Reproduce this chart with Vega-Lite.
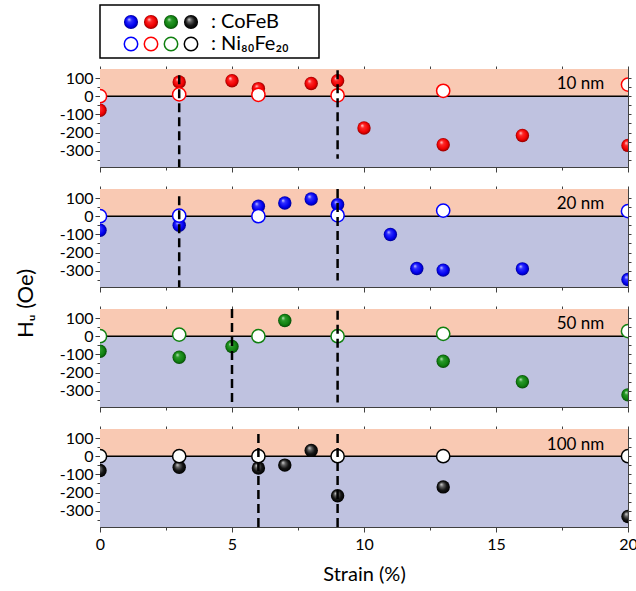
{
  "$schema": "https://vega.github.io/schema/vega-lite/v6.json",
  "padding": {"left": 13, "top": 4, "right": 0, "bottom": 5},
  "config": {
    "font": "Lato",
    "view": {"stroke": "#404040", "strokeWidth": 1},
    "axis": {"grid": false, "domainColor": "#404040", "tickColor": "#404040", "labelColor": "black", "labelFont": "Lato", "labelFontSize": 16, "labelOverlap": false, "labelFlush": false, "labelPadding": 2, "titleFont": "Lato", "titleFontWeight": "normal", "titleColor": "black"}
  },
  "datasets": {
    "cofeb": [
      {"t": "10 nm", "strain": 0, "hu": -77}, {"t": "10 nm", "strain": 3, "hu": 79}, {"t": "10 nm", "strain": 5, "hu": 85}, {"t": "10 nm", "strain": 6, "hu": 42}, {"t": "10 nm", "strain": 8, "hu": 70}, {"t": "10 nm", "strain": 9, "hu": 85}, {"t": "10 nm", "strain": 10, "hu": -175}, {"t": "10 nm", "strain": 13, "hu": -267}, {"t": "10 nm", "strain": 16, "hu": -216}, {"t": "10 nm", "strain": 20, "hu": -271},
      {"t": "20 nm", "strain": 0, "hu": -77}, {"t": "20 nm", "strain": 3, "hu": -50}, {"t": "20 nm", "strain": 6, "hu": 55}, {"t": "20 nm", "strain": 7, "hu": 73}, {"t": "20 nm", "strain": 8, "hu": 95}, {"t": "20 nm", "strain": 9, "hu": 64}, {"t": "20 nm", "strain": 11, "hu": -101}, {"t": "20 nm", "strain": 12, "hu": -288}, {"t": "20 nm", "strain": 13, "hu": -297}, {"t": "20 nm", "strain": 16, "hu": -290}, {"t": "20 nm", "strain": 20, "hu": -349},
      {"t": "50 nm", "strain": 0, "hu": -83}, {"t": "50 nm", "strain": 3, "hu": -116}, {"t": "50 nm", "strain": 5, "hu": -57}, {"t": "50 nm", "strain": 7, "hu": 87}, {"t": "50 nm", "strain": 13, "hu": -138}, {"t": "50 nm", "strain": 16, "hu": -251}, {"t": "50 nm", "strain": 20, "hu": -323},
      {"t": "100 nm", "strain": 0, "hu": -79}, {"t": "100 nm", "strain": 3, "hu": -61}, {"t": "100 nm", "strain": 6, "hu": -65}, {"t": "100 nm", "strain": 7, "hu": -49}, {"t": "100 nm", "strain": 8, "hu": 32}, {"t": "100 nm", "strain": 9, "hu": -218}, {"t": "100 nm", "strain": 13, "hu": -169}, {"t": "100 nm", "strain": 20, "hu": -332}
    ],
    "nife": [
      {"t": "10 nm", "strain": 0, "hu": 0}, {"t": "10 nm", "strain": 3, "hu": 10}, {"t": "10 nm", "strain": 6, "hu": 8}, {"t": "10 nm", "strain": 9, "hu": 5}, {"t": "10 nm", "strain": 13, "hu": 30}, {"t": "10 nm", "strain": 20, "hu": 64},
      {"t": "20 nm", "strain": 0, "hu": 0}, {"t": "20 nm", "strain": 3, "hu": 3}, {"t": "20 nm", "strain": 6, "hu": 0}, {"t": "20 nm", "strain": 9, "hu": 5}, {"t": "20 nm", "strain": 13, "hu": 31}, {"t": "20 nm", "strain": 20, "hu": 28},
      {"t": "50 nm", "strain": 0, "hu": 0}, {"t": "50 nm", "strain": 3, "hu": 9}, {"t": "50 nm", "strain": 6, "hu": 0}, {"t": "50 nm", "strain": 9, "hu": 0}, {"t": "50 nm", "strain": 13, "hu": 13}, {"t": "50 nm", "strain": 20, "hu": 28},
      {"t": "100 nm", "strain": 0, "hu": 0}, {"t": "100 nm", "strain": 3, "hu": 0}, {"t": "100 nm", "strain": 6, "hu": 0}, {"t": "100 nm", "strain": 9, "hu": 0}, {"t": "100 nm", "strain": 13, "hu": 0}, {"t": "100 nm", "strain": 20, "hu": 0}
    ],
    "dashes": [
      {"t": "10 nm", "strain": 3, "top": 116, "bottom": -390}, {"t": "10 nm", "strain": 9, "top": 143, "bottom": -345},
      {"t": "20 nm", "strain": 3, "top": 110, "bottom": -390}, {"t": "20 nm", "strain": 9, "top": 150, "bottom": -354},
      {"t": "50 nm", "strain": 5, "top": 150, "bottom": -390}, {"t": "50 nm", "strain": 9, "top": 140, "bottom": -365},
      {"t": "100 nm", "strain": 6, "top": 122, "bottom": -390}, {"t": "100 nm", "strain": 9, "top": 122, "bottom": -390}
    ]
  },
  "spacing": 11,
  "bounds": "flush",
  "vconcat": [
    {
      "width": 219, "height": 53,
      "view": {"stroke": "black", "strokeWidth": 1.5},
      "layer": [
        {"data": {"values": [{"color": "blue", "material": "CoFeB"}]},
         "mark": {"type": "point", "shape": "circle", "filled": true, "opacity": 1, "size": 200, "strokeWidth": 0,
           "fill": {"gradient": "radial", "x1": 0.35, "y1": 0.3, "r1": 0, "x2": 0.5, "y2": 0.5, "r2": 0.5, "stops": [{"offset": 0, "color": "#d8d8ff"}, {"offset": 0.3, "color": "#3030ff"}, {"offset": 0.75, "color": "#0000ee"}, {"offset": 1, "color": "#000090"}]}},
         "encoding": {"x": {"field": "color", "type": "nominal", "scale": {"type": "point", "padding": 0, "domain": ["blue", "red", "green", "black", "label"], "range": [31, 111]}, "axis": null},
                      "y": {"field": "material", "type": "nominal", "scale": {"type": "point", "padding": 0, "domain": ["CoFeB", "Ni80Fe20"], "range": [17, 39]}, "axis": null}}},
        {"data": {"values": [{"color": "red", "material": "CoFeB"}]},
         "mark": {"type": "point", "shape": "circle", "filled": true, "opacity": 1, "size": 200, "strokeWidth": 0,
           "fill": {"gradient": "radial", "x1": 0.35, "y1": 0.3, "r1": 0, "x2": 0.5, "y2": 0.5, "r2": 0.5, "stops": [{"offset": 0, "color": "#ffe0e0"}, {"offset": 0.3, "color": "#ff2828"}, {"offset": 0.75, "color": "#ee0000"}, {"offset": 1, "color": "#900000"}]}},
         "encoding": {"x": {"field": "color", "type": "nominal", "axis": null}, "y": {"field": "material", "type": "nominal", "axis": null}}},
        {"data": {"values": [{"color": "green", "material": "CoFeB"}]},
         "mark": {"type": "point", "shape": "circle", "filled": true, "opacity": 1, "size": 200, "strokeWidth": 0,
           "fill": {"gradient": "radial", "x1": 0.35, "y1": 0.3, "r1": 0, "x2": 0.5, "y2": 0.5, "r2": 0.5, "stops": [{"offset": 0, "color": "#d0ecd0"}, {"offset": 0.3, "color": "#2a9a2a"}, {"offset": 0.75, "color": "#108010"}, {"offset": 1, "color": "#064a06"}]}},
         "encoding": {"x": {"field": "color", "type": "nominal", "axis": null}, "y": {"field": "material", "type": "nominal", "axis": null}}},
        {"data": {"values": [{"color": "black", "material": "CoFeB"}]},
         "mark": {"type": "point", "shape": "circle", "filled": true, "opacity": 1, "size": 200, "strokeWidth": 0,
           "fill": {"gradient": "radial", "x1": 0.35, "y1": 0.3, "r1": 0, "x2": 0.5, "y2": 0.5, "r2": 0.5, "stops": [{"offset": 0, "color": "#d8d8d8"}, {"offset": 0.3, "color": "#606060"}, {"offset": 0.65, "color": "#151515"}, {"offset": 1, "color": "#000000"}]}},
         "encoding": {"x": {"field": "color", "type": "nominal", "axis": null}, "y": {"field": "material", "type": "nominal", "axis": null}}},
        {"data": {"values": [{"color": "blue", "material": "Ni80Fe20"}, {"color": "red", "material": "Ni80Fe20"}, {"color": "green", "material": "Ni80Fe20"}, {"color": "black", "material": "Ni80Fe20"}]},
         "mark": {"type": "point", "shape": "circle", "filled": true, "fill": "white", "opacity": 1, "size": 180, "strokeWidth": 1.5},
         "encoding": {"x": {"field": "color", "type": "nominal", "axis": null}, "y": {"field": "material", "type": "nominal", "axis": null},
                      "stroke": {"field": "color", "type": "nominal", "scale": {"domain": ["blue", "red", "green", "black"], "range": ["#0000ff", "#ff0000", "#108010", "#000000"]}, "legend": null}}},
        {"data": {"values": [{"slot": "label", "material": "CoFeB", "text": ": CoFeB"}, {"slot": "label", "material": "Ni80Fe20", "text": ": Ni₈₀Fe₂₀"}]},
         "mark": {"type": "text", "align": "left", "baseline": "middle", "font": "Lato", "fontSize": 20, "color": "black"},
         "encoding": {"x": {"field": "slot", "type": "nominal", "axis": null}, "y": {"field": "material", "type": "nominal", "axis": null}, "text": {"field": "text"}}}
      ]
    },
    {
      "spacing": 22,
      "bounds": "flush",
      "vconcat": [
        {
          "width": 528, "height": 98,
          "resolve": {"axis": {"x": "independent", "y": "independent"}},
          "layer": [
            {"data": {"values": [{}]}, "mark": {"type": "rect", "color": "#f9c9b3"},
             "encoding": {"y": {"datum": 0, "type": "quantitative", "scale": {"domain": [-390, 150], "nice": false, "zero": false}, "axis": null}, "y2": {"datum": 150}}},
            {"data": {"values": [{}]}, "mark": {"type": "rect", "color": "#bfc2e0"},
             "encoding": {"y": {"datum": -390, "type": "quantitative", "axis": null}, "y2": {"datum": 0}}},
            {"data": {"values": [{}]}, "mark": {"type": "rule", "color": "black", "strokeWidth": 1.5},
             "encoding": {"y": {"datum": 0, "type": "quantitative", "axis": null}}},
            {"data": {"name": "cofeb"}, "transform": [{"filter": "datum.t === '10 nm'"}],
             "mark": {"type": "point", "shape": "circle", "filled": true, "opacity": 1, "size": 180, "strokeWidth": 0, "clip": true,
               "fill": {"gradient": "radial", "x1": 0.35, "y1": 0.3, "r1": 0, "x2": 0.5, "y2": 0.5, "r2": 0.5, "stops": [{"offset": 0, "color": "#ffe0e0"}, {"offset": 0.3, "color": "#ff2828"}, {"offset": 0.75, "color": "#ee0000"}, {"offset": 1, "color": "#900000"}]}},
             "encoding": {
               "x": {"field": "strain", "type": "quantitative", "scale": {"domain": [0, 20], "nice": false, "zero": false},
                     "axis": {"orient": "bottom", "values": [0, 2.5, 5, 7.5, 10, 12.5, 15, 17.5, 20], "labels": false, "title": null, "tickSize": {"condition": {"test": "datum.value % 5 === 0", "value": 5}, "value": 3}}},
               "y": {"field": "hu", "type": "quantitative", "scale": {"domain": [-390, 150], "nice": false, "zero": false},
                     "axis": {"orient": "left", "values": [-350, -300, -250, -200, -150, -100, -50, 0, 50, 100], "title": null, "labelExpr": "datum.value % 100 === 0 ? '' + datum.value : ''", "tickSize": {"condition": {"test": "datum.value % 100 === 0", "value": 5}, "value": 3}}}}},
            {"data": {"name": "nife"}, "transform": [{"filter": "datum.t === '10 nm'"}],
             "mark": {"type": "point", "shape": "circle", "filled": true, "fill": "white", "stroke": "#ff0000", "strokeWidth": 1.5, "opacity": 1, "size": 175, "clip": true},
             "encoding": {"x": {"field": "strain", "type": "quantitative", "axis": null}, "y": {"field": "hu", "type": "quantitative", "axis": null}}},
            {"data": {"name": "dashes"}, "transform": [{"filter": "datum.t === '10 nm'"}],
             "mark": {"type": "rule", "color": "black", "strokeWidth": 2.5, "strokeDash": [9, 5]},
             "encoding": {
               "x": {"field": "strain", "type": "quantitative", "axis": {"orient": "top", "values": [0, 2.5, 5, 7.5, 10, 12.5, 15, 17.5, 20], "labels": false, "title": null, "tickSize": 3}},
               "y": {"field": "top", "type": "quantitative", "axis": {"orient": "right", "values": [-350, -300, -250, -200, -150, -100, -50, 0, 50, 100], "labels": false, "title": null, "tickSize": 3}},
               "y2": {"field": "bottom"}}},
            {"data": {"values": [{}]}, "mark": {"type": "text", "text": "10 nm", "align": "right", "baseline": "middle", "font": "Lato", "fontSize": 17, "color": "black"},
             "encoding": {"x": {"datum": 19.1, "type": "quantitative", "axis": null}, "y": {"datum": 70, "type": "quantitative", "axis": null}}}
          ]
        },
        {
          "width": 528, "height": 98,
          "resolve": {"axis": {"x": "independent", "y": "independent"}},
          "layer": [
            {"data": {"values": [{}]}, "mark": {"type": "rect", "color": "#f9c9b3"},
             "encoding": {"y": {"datum": 0, "type": "quantitative", "scale": {"domain": [-390, 150], "nice": false, "zero": false}, "axis": null}, "y2": {"datum": 150}}},
            {"data": {"values": [{}]}, "mark": {"type": "rect", "color": "#bfc2e0"},
             "encoding": {"y": {"datum": -390, "type": "quantitative", "axis": null}, "y2": {"datum": 0}}},
            {"data": {"values": [{}]}, "mark": {"type": "rule", "color": "black", "strokeWidth": 1.5},
             "encoding": {"y": {"datum": 0, "type": "quantitative", "axis": null}}},
            {"data": {"name": "cofeb"}, "transform": [{"filter": "datum.t === '20 nm'"}],
             "mark": {"type": "point", "shape": "circle", "filled": true, "opacity": 1, "size": 180, "strokeWidth": 0, "clip": true,
               "fill": {"gradient": "radial", "x1": 0.35, "y1": 0.3, "r1": 0, "x2": 0.5, "y2": 0.5, "r2": 0.5, "stops": [{"offset": 0, "color": "#d8d8ff"}, {"offset": 0.3, "color": "#3030ff"}, {"offset": 0.75, "color": "#0000ee"}, {"offset": 1, "color": "#000090"}]}},
             "encoding": {
               "x": {"field": "strain", "type": "quantitative", "scale": {"domain": [0, 20], "nice": false, "zero": false},
                     "axis": {"orient": "bottom", "values": [0, 2.5, 5, 7.5, 10, 12.5, 15, 17.5, 20], "labels": false, "title": null, "tickSize": {"condition": {"test": "datum.value % 5 === 0", "value": 5}, "value": 3}}},
               "y": {"field": "hu", "type": "quantitative", "scale": {"domain": [-390, 150], "nice": false, "zero": false},
                     "axis": {"orient": "left", "values": [-350, -300, -250, -200, -150, -100, -50, 0, 50, 100], "title": null, "labelExpr": "datum.value % 100 === 0 ? '' + datum.value : ''", "tickSize": {"condition": {"test": "datum.value % 100 === 0", "value": 5}, "value": 3}}}}},
            {"data": {"name": "nife"}, "transform": [{"filter": "datum.t === '20 nm'"}],
             "mark": {"type": "point", "shape": "circle", "filled": true, "fill": "white", "stroke": "#0000ff", "strokeWidth": 1.5, "opacity": 1, "size": 175, "clip": true},
             "encoding": {"x": {"field": "strain", "type": "quantitative", "axis": null}, "y": {"field": "hu", "type": "quantitative", "axis": null}}},
            {"data": {"name": "dashes"}, "transform": [{"filter": "datum.t === '20 nm'"}],
             "mark": {"type": "rule", "color": "black", "strokeWidth": 2.5, "strokeDash": [9, 5]},
             "encoding": {
               "x": {"field": "strain", "type": "quantitative", "axis": {"orient": "top", "values": [0, 2.5, 5, 7.5, 10, 12.5, 15, 17.5, 20], "labels": false, "title": null, "tickSize": 3}},
               "y": {"field": "top", "type": "quantitative", "axis": {"orient": "right", "values": [-350, -300, -250, -200, -150, -100, -50, 0, 50, 100], "labels": false, "title": null, "tickSize": 3}},
               "y2": {"field": "bottom"}}},
            {"data": {"values": [{}]}, "mark": {"type": "text", "text": "20 nm", "align": "right", "baseline": "middle", "font": "Lato", "fontSize": 17, "color": "black"},
             "encoding": {"x": {"datum": 19.1, "type": "quantitative", "axis": null}, "y": {"datum": 70, "type": "quantitative", "axis": null}}}
          ]
        },
        {
          "width": 528, "height": 98,
          "resolve": {"axis": {"x": "independent", "y": "independent"}},
          "layer": [
            {"data": {"values": [{}]}, "mark": {"type": "rect", "color": "#f9c9b3"},
             "encoding": {"y": {"datum": 0, "type": "quantitative", "scale": {"domain": [-390, 150], "nice": false, "zero": false}, "axis": null}, "y2": {"datum": 150}}},
            {"data": {"values": [{}]}, "mark": {"type": "rect", "color": "#bfc2e0"},
             "encoding": {"y": {"datum": -390, "type": "quantitative", "axis": null}, "y2": {"datum": 0}}},
            {"data": {"values": [{}]}, "mark": {"type": "rule", "color": "black", "strokeWidth": 1.5},
             "encoding": {"y": {"datum": 0, "type": "quantitative", "axis": null}}},
            {"data": {"name": "cofeb"}, "transform": [{"filter": "datum.t === '50 nm'"}],
             "mark": {"type": "point", "shape": "circle", "filled": true, "opacity": 1, "size": 180, "strokeWidth": 0, "clip": true,
               "fill": {"gradient": "radial", "x1": 0.35, "y1": 0.3, "r1": 0, "x2": 0.5, "y2": 0.5, "r2": 0.5, "stops": [{"offset": 0, "color": "#d0ecd0"}, {"offset": 0.3, "color": "#2a9a2a"}, {"offset": 0.75, "color": "#108010"}, {"offset": 1, "color": "#064a06"}]}},
             "encoding": {
               "x": {"field": "strain", "type": "quantitative", "scale": {"domain": [0, 20], "nice": false, "zero": false},
                     "axis": {"orient": "bottom", "values": [0, 2.5, 5, 7.5, 10, 12.5, 15, 17.5, 20], "labels": false, "title": null, "tickSize": {"condition": {"test": "datum.value % 5 === 0", "value": 5}, "value": 3}}},
               "y": {"field": "hu", "type": "quantitative", "scale": {"domain": [-390, 150], "nice": false, "zero": false},
                     "axis": {"orient": "left", "values": [-350, -300, -250, -200, -150, -100, -50, 0, 50, 100], "title": "Hᵤ (Oe)", "titleFontSize": 22, "titleY": -6, "titlePadding": 22, "labelExpr": "datum.value % 100 === 0 ? '' + datum.value : ''", "tickSize": {"condition": {"test": "datum.value % 100 === 0", "value": 5}, "value": 3}}}}},
            {"data": {"name": "nife"}, "transform": [{"filter": "datum.t === '50 nm'"}],
             "mark": {"type": "point", "shape": "circle", "filled": true, "fill": "white", "stroke": "#108010", "strokeWidth": 1.5, "opacity": 1, "size": 175, "clip": true},
             "encoding": {"x": {"field": "strain", "type": "quantitative", "axis": null}, "y": {"field": "hu", "type": "quantitative", "axis": null}}},
            {"data": {"name": "dashes"}, "transform": [{"filter": "datum.t === '50 nm'"}],
             "mark": {"type": "rule", "color": "black", "strokeWidth": 2.5, "strokeDash": [9, 5]},
             "encoding": {
               "x": {"field": "strain", "type": "quantitative", "axis": {"orient": "top", "values": [0, 2.5, 5, 7.5, 10, 12.5, 15, 17.5, 20], "labels": false, "title": null, "tickSize": 3}},
               "y": {"field": "top", "type": "quantitative", "axis": {"orient": "right", "values": [-350, -300, -250, -200, -150, -100, -50, 0, 50, 100], "labels": false, "title": null, "tickSize": 3}},
               "y2": {"field": "bottom"}}},
            {"data": {"values": [{}]}, "mark": {"type": "text", "text": "50 nm", "align": "right", "baseline": "middle", "font": "Lato", "fontSize": 17, "color": "black"},
             "encoding": {"x": {"datum": 19.1, "type": "quantitative", "axis": null}, "y": {"datum": 68, "type": "quantitative", "axis": null}}}
          ]
        },
        {
          "width": 528, "height": 98,
          "resolve": {"axis": {"x": "independent", "y": "independent"}},
          "layer": [
            {"data": {"values": [{}]}, "mark": {"type": "rect", "color": "#f9c9b3"},
             "encoding": {"y": {"datum": 0, "type": "quantitative", "scale": {"domain": [-390, 150], "nice": false, "zero": false}, "axis": null}, "y2": {"datum": 150}}},
            {"data": {"values": [{}]}, "mark": {"type": "rect", "color": "#bfc2e0"},
             "encoding": {"y": {"datum": -390, "type": "quantitative", "axis": null}, "y2": {"datum": 0}}},
            {"data": {"values": [{}]}, "mark": {"type": "rule", "color": "black", "strokeWidth": 1.5},
             "encoding": {"y": {"datum": 0, "type": "quantitative", "axis": null}}},
            {"data": {"name": "cofeb"}, "transform": [{"filter": "datum.t === '100 nm'"}],
             "mark": {"type": "point", "shape": "circle", "filled": true, "opacity": 1, "size": 180, "strokeWidth": 0, "clip": true,
               "fill": {"gradient": "radial", "x1": 0.35, "y1": 0.3, "r1": 0, "x2": 0.5, "y2": 0.5, "r2": 0.5, "stops": [{"offset": 0, "color": "#d8d8d8"}, {"offset": 0.3, "color": "#606060"}, {"offset": 0.65, "color": "#151515"}, {"offset": 1, "color": "#000000"}]}},
             "encoding": {
               "x": {"field": "strain", "type": "quantitative", "scale": {"domain": [0, 20], "nice": false, "zero": false},
                     "axis": {"orient": "bottom", "values": [0, 2.5, 5, 7.5, 10, 12.5, 15, 17.5, 20], "title": "Strain (%)", "titleFontSize": 20, "titlePadding": 12, "labelPadding": 4, "labelExpr": "datum.value % 5 === 0 ? '' + datum.value : ''", "tickSize": {"condition": {"test": "datum.value % 5 === 0", "value": 5}, "value": 3}}},
               "y": {"field": "hu", "type": "quantitative", "scale": {"domain": [-390, 150], "nice": false, "zero": false},
                     "axis": {"orient": "left", "values": [-350, -300, -250, -200, -150, -100, -50, 0, 50, 100], "title": null, "labelExpr": "datum.value % 100 === 0 ? '' + datum.value : ''", "tickSize": {"condition": {"test": "datum.value % 100 === 0", "value": 5}, "value": 3}}}}},
            {"data": {"name": "nife"}, "transform": [{"filter": "datum.t === '100 nm'"}],
             "mark": {"type": "point", "shape": "circle", "filled": true, "fill": "white", "stroke": "#000000", "strokeWidth": 1.5, "opacity": 1, "size": 175, "clip": true},
             "encoding": {"x": {"field": "strain", "type": "quantitative", "axis": null}, "y": {"field": "hu", "type": "quantitative", "axis": null}}},
            {"data": {"name": "dashes"}, "transform": [{"filter": "datum.t === '100 nm'"}],
             "mark": {"type": "rule", "color": "black", "strokeWidth": 2.5, "strokeDash": [9, 5]},
             "encoding": {
               "x": {"field": "strain", "type": "quantitative", "axis": {"orient": "top", "values": [0, 2.5, 5, 7.5, 10, 12.5, 15, 17.5, 20], "labels": false, "title": null, "tickSize": 3}},
               "y": {"field": "top", "type": "quantitative", "axis": {"orient": "right", "values": [-350, -300, -250, -200, -150, -100, -50, 0, 50, 100], "labels": false, "title": null, "tickSize": 3}},
               "y2": {"field": "bottom"}}},
            {"data": {"values": [{}]}, "mark": {"type": "text", "text": "100 nm", "align": "right", "baseline": "middle", "font": "Lato", "fontSize": 17, "color": "black"},
             "encoding": {"x": {"datum": 19.1, "type": "quantitative", "axis": null}, "y": {"datum": 62, "type": "quantitative", "axis": null}}}
          ]
        }
      ]
    }
  ]
}
